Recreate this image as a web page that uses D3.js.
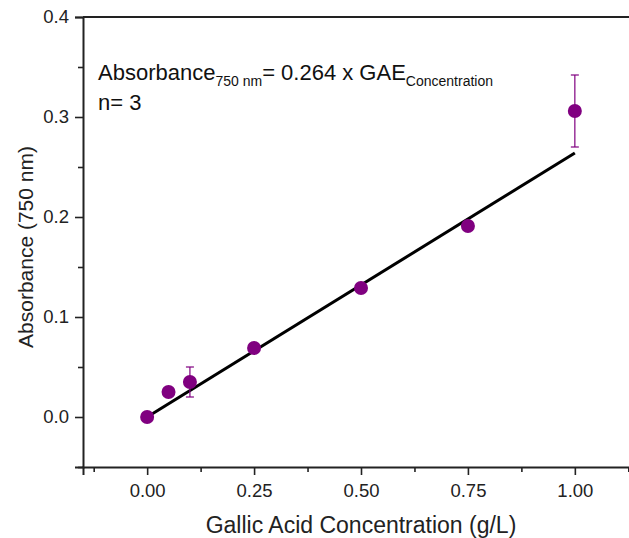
<!DOCTYPE html>
<html>
<head>
<meta charset="utf-8">
<script src="https://cdn.jsdelivr.net/npm/d3@7"></script>
<style>
  body { margin: 0; background: #fff; }
  svg { display: block; font-family: "Liberation Sans", Arial, sans-serif; }
</style>
</head>
<body>
<svg id="chart" width="629" height="538"></svg>
<script>
// gallic acid standard curve
const concentrations = [0, 0.05, 0.1, 0.25, 0.5, 0.75, 1.0];
const absorbances = [0.0, 0.025, 0.035, 0.069, 0.129, 0.191, 0.306];
const errors = [0, 0, 0.015, 0, 0, 0, 0.036];
const slope = 0.264;
const fitRange = [0, 1.0];
const xTicks = [0, 0.25, 0.5, 0.75, 1.0];
const yTicks = [0, 0.1, 0.2, 0.3, 0.4];

var margin = { top: 17, right: -10, bottom: 71, left: 83 },
	width = 629 - margin.left - margin.right,
	height = 538 - margin.top - margin.bottom;

const svg = d3.select("#chart")
	.append("g")
	.attr("transform", `translate(${margin.left}, ${margin.top})`);

var x = d3.scaleLinear().domain([-0.15, 1.15]).range([0, width]);
var y = d3.scaleLinear().domain([-0.05, 0.4]).range([height, 0]);

const axisColor = "#222";

// minor ticks first
svg.append("g")
	.attr("transform", "translate(0," + height + ")")
	.call(d3.axisBottom(x).tickValues([-0.125, 0.125, 0.375, 0.625, 0.875, 1.125]).tickSize(5).tickFormat(""))
	.call(g => g.select(".domain").remove());
svg.append("g")
	.call(d3.axisLeft(y).tickValues([-0.05, 0.05, 0.15, 0.25, 0.35]).tickSize(5).tickFormat(""))
	.call(g => g.select(".domain").remove());

// major ticks
const xAxis = svg.append("g")
	.attr("transform", "translate(0," + height + ")")
	.call(d3.axisBottom(x).tickValues(xTicks).tickSize(8).tickPadding(9).tickFormat(d3.format(".2f")));
const yAxis = svg.append("g")
	.call(d3.axisLeft(y).tickValues(yTicks).tickSize(8).tickPadding(6).tickFormat(d3.format(".1f")));

[xAxis, yAxis].forEach(a => {
	a.selectAll("text").attr("font-size", 18.5).attr("fill", "#222")
		.attr("font-family", "'Liberation Sans', Arial, sans-serif");
	a.select(".domain").attr("stroke", axisColor).attr("stroke-width", 2);
});
svg.selectAll(".tick line").attr("stroke", axisColor).attr("stroke-width", 1.6);

// top and right frame
svg.append("line").attr("x1", 0).attr("x2", width).attr("y1", 0).attr("y2", 0)
	.attr("stroke", axisColor).attr("stroke-width", 2);
svg.append("line").attr("x1", width).attr("x2", width).attr("y1", 0).attr("y2", height)
	.attr("stroke", axisColor).attr("stroke-width", 2);

// fit line
svg.append("line")
	.attr("x1", x(fitRange[0])).attr("y1", y(slope * fitRange[0]))
	.attr("x2", x(fitRange[1])).attr("y2", y(slope * fitRange[1]))
	.attr("stroke", "#000").attr("stroke-width", 3);

const data = concentrations.map((c, i) => ({ c: c, a: absorbances[i], e: errors[i] }));
const purple = "#800080";

// error bars
const eb = svg.append("g").selectAll("g")
	.data(data.filter(d => d.e > 0))
	.enter().append("g")
	.attr("stroke", purple).attr("stroke-width", 1.2);
eb.append("line")
	.attr("x1", d => x(d.c)).attr("x2", d => x(d.c))
	.attr("y1", d => y(d.a - d.e)).attr("y2", d => y(d.a + d.e));
eb.append("line")
	.attr("x1", d => x(d.c) - 4).attr("x2", d => x(d.c) + 4)
	.attr("y1", d => y(d.a + d.e)).attr("y2", d => y(d.a + d.e));
eb.append("line")
	.attr("x1", d => x(d.c) - 4).attr("x2", d => x(d.c) + 4)
	.attr("y1", d => y(d.a - d.e)).attr("y2", d => y(d.a - d.e));

// dots
svg.append("g")
	.selectAll("circle")
	.data(data)
	.enter()
	.append("circle")
	.attr("cx", d => x(d.c))
	.attr("cy", d => y(d.a))
	.attr("r", 7)
	.style("fill", purple);

// equation
const eq = svg.append("text")
	.attr("x", 15).attr("y", 63)
	.attr("font-size", 22).attr("fill", "#111");
eq.append("tspan").text("Absorbance");
eq.append("tspan").attr("font-size", 14).attr("dy", 6).text("750 nm");
eq.append("tspan").attr("dy", -6).text("= 0.264 x GAE");
eq.append("tspan").attr("font-size", 14).attr("dy", 6).text("Concentration");

svg.append("text")
	.attr("x", 15).attr("y", 93)
	.attr("font-size", 22).attr("fill", "#111")
	.text("n= 3");

// axis titles
svg.append("text")
	.attr("x", x(0.5)).attr("y", height + 66)
	.attr("text-anchor", "middle").attr("font-size", 23).attr("fill", "#222")
	.text("Gallic Acid Concentration (g/L)");

svg.append("text")
	.attr("transform", `translate(${-50}, ${230}) rotate(-90)`)
	.attr("text-anchor", "middle").attr("font-size", 21).attr("fill", "#222")
	.text("Absorbance (750 nm)");
</script>
</body>
</html>
